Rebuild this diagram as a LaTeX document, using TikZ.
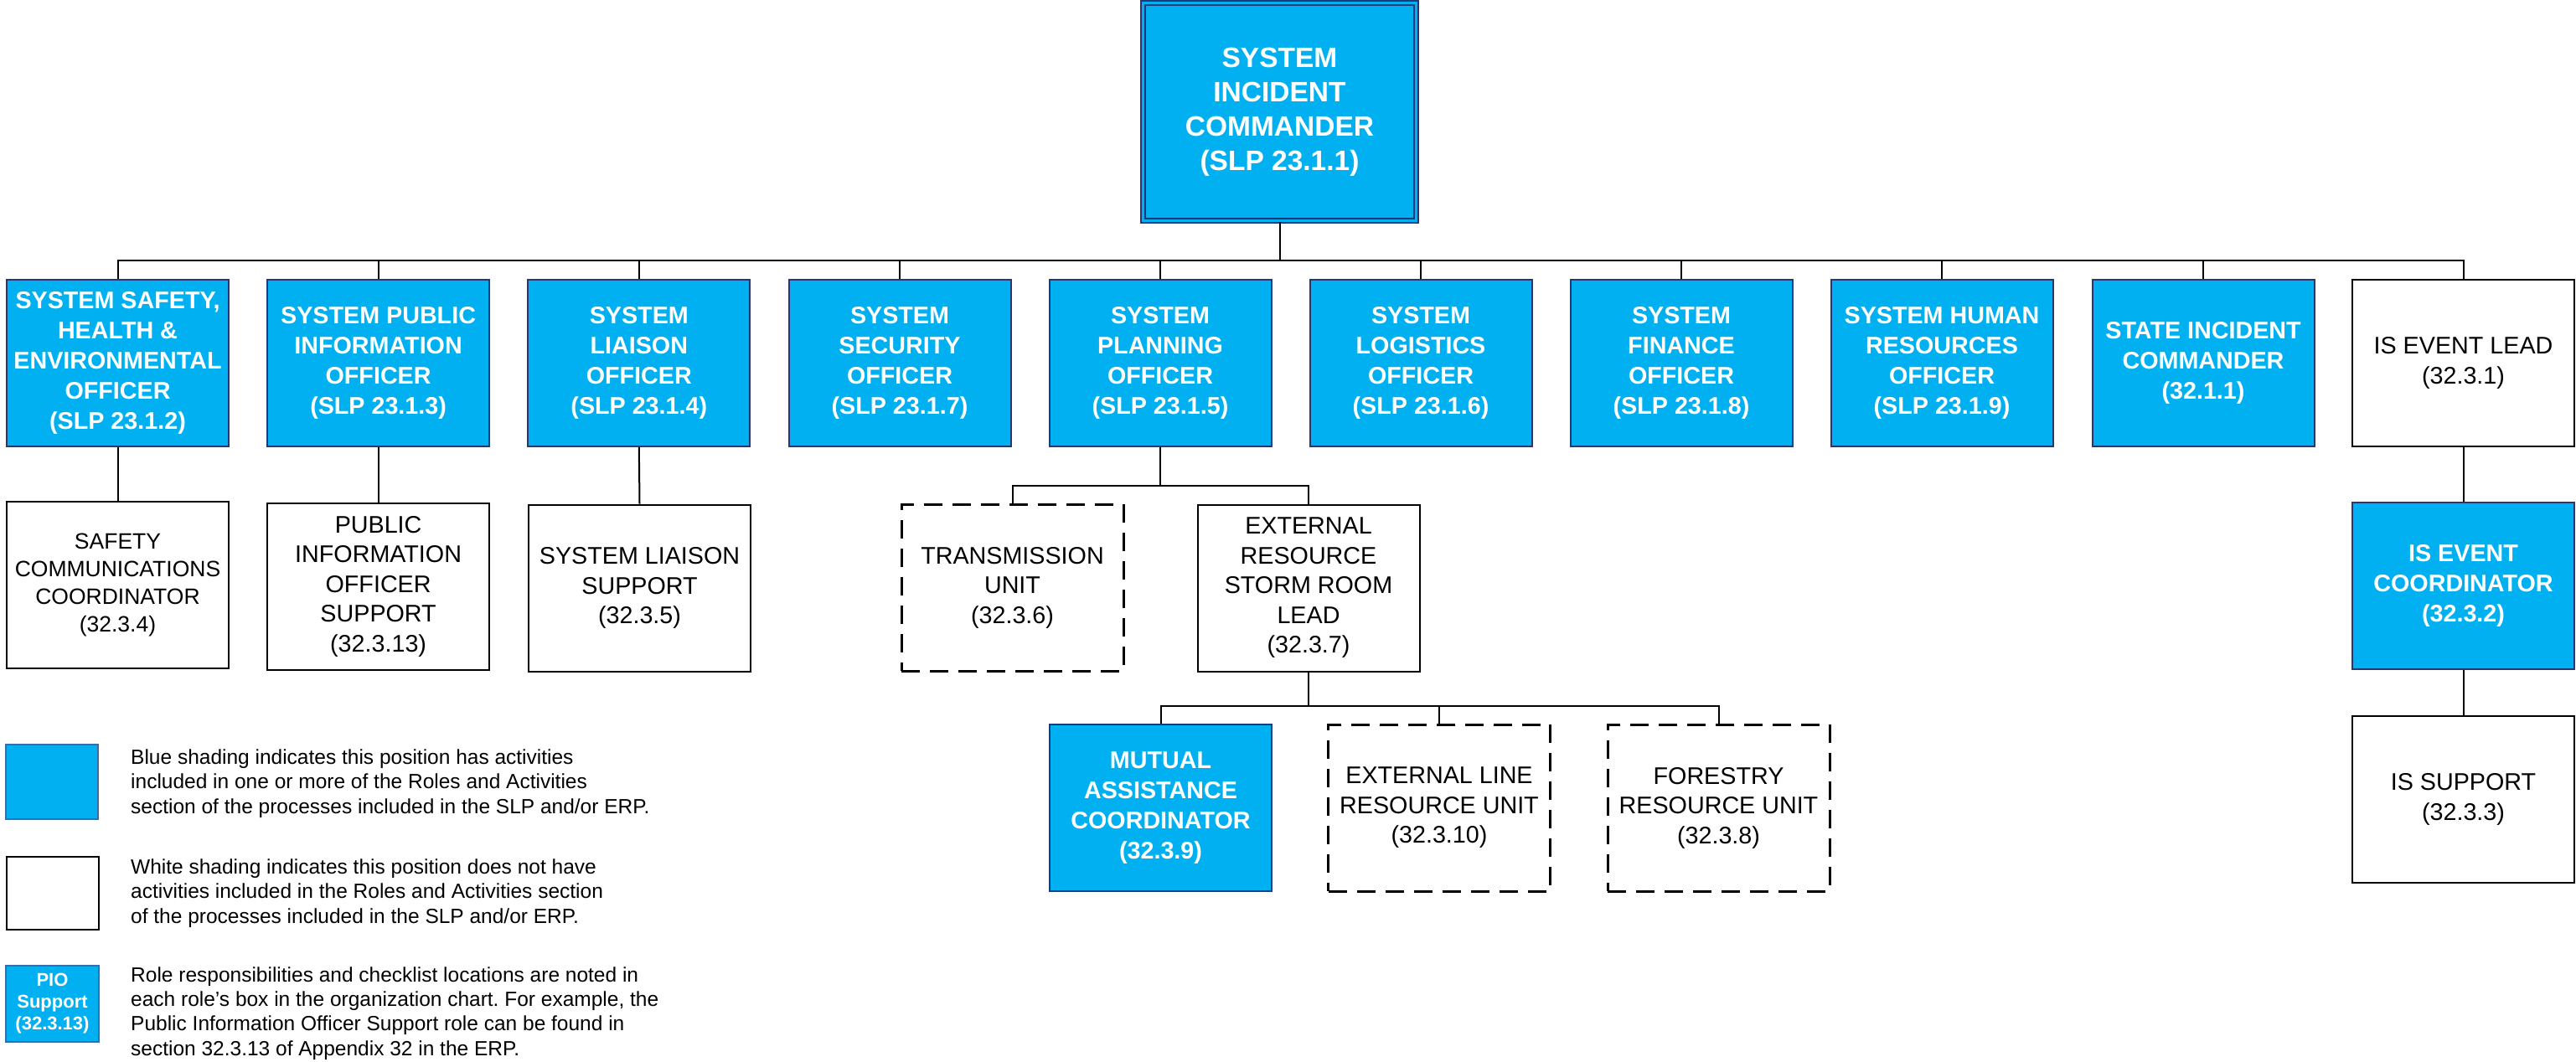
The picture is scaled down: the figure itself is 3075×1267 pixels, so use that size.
\documentclass[tikz,border=0pt]{standalone}
\usepackage{fontspec}
\setmainfont{Liberation Sans}
\frenchspacing
\definecolor{boxblue}{HTML}{00B0F0}
\definecolor{bordernavy}{HTML}{1F3A78}
\definecolor{legendedge}{HTML}{3E6AA8}
\begin{document}
\begin{tikzpicture}[x=1pt,y=-1pt,
  box/.style={rectangle, minimum width=265pt, minimum height=199pt, inner sep=0pt, align=center},
  bluebox/.style={box, fill=boxblue, draw=bordernavy, line width=2pt, text=white, font=\bfseries\fontsize{28.7}{36}\selectfont},
  whitebox/.style={box, fill=white, draw=black, line width=2pt, font=\fontsize{28.7}{35.5}\selectfont},
  dashbox/.style={whitebox, dash pattern=on 22pt off 12pt, line width=3pt},
  link/.style={draw=black, line width=2pt},
  legtext/.style={anchor=base west, align=left, inner sep=0pt, font=\fontsize{24.5}{29.3}\selectfont}
]
\useasboundingbox (0,0) rectangle (3075,1267);

% top
\node[rectangle, minimum width=326pt, minimum height=260pt, inner sep=0pt, fill=boxblue, draw=bordernavy, line width=2pt, double=boxblue, double distance=3pt, text=white, font=\bfseries\fontsize{33.5}{41}\selectfont, align=center] (sic) at (1527.5,133.5) {SYSTEM\\INCIDENT\\COMMANDER\\(SLP 23.1.1)};

% row 1
\node[bluebox] (s1) at (140.5,433.5) {SYSTEM SAFETY,\\HEALTH \&\\ENVIRONMENTAL\\OFFICER\\(SLP 23.1.2)};
\node[bluebox] (s2) at (451.6,433.5) {SYSTEM PUBLIC\\INFORMATION\\OFFICER\\(SLP 23.1.3)};
\node[bluebox] (s3) at (762.8,433.5) {SYSTEM\\LIAISON\\OFFICER\\(SLP 23.1.4)};
\node[bluebox] (s4) at (1074,433.5) {SYSTEM\\SECURITY\\OFFICER\\(SLP 23.1.7)};
\node[bluebox] (s5) at (1385,433.5) {SYSTEM\\PLANNING\\OFFICER\\(SLP 23.1.5)};
\node[bluebox] (s6) at (1696,433.5) {SYSTEM\\LOGISTICS\\OFFICER\\(SLP 23.1.6)};
\node[bluebox] (s7) at (2007,433.5) {SYSTEM\\FINANCE\\OFFICER\\(SLP 23.1.8)};
\node[bluebox] (s8) at (2318,433.5) {SYSTEM HUMAN\\RESOURCES\\OFFICER\\(SLP 23.1.9)};
\node[bluebox] (s9) at (2630,433.5) {STATE INCIDENT\\COMMANDER\\(32.1.1)};
\node[whitebox] (s10) at (2940.5,433.5) {IS EVENT LEAD\\(32.3.1)};

% row 2
\node[whitebox, font=\fontsize{26.5}{33}\selectfont] (sc) at (140.5,698.5) {SAFETY\\COMMUNICATIONS\\COORDINATOR\\(32.3.4)};
\node[whitebox] (pis) at (451.6,700) {PUBLIC\\INFORMATION\\OFFICER\\SUPPORT\\(32.3.13)};
\node[whitebox] (ls) at (763.5,702) {SYSTEM LIAISON\\SUPPORT\\(32.3.5)};
\node[dashbox] (trans) at (1208.5,701.5) {TRANSMISSION\\UNIT\\(32.3.6)};
\node[whitebox] (ext) at (1562,702) {EXTERNAL\\RESOURCE\\STORM ROOM\\LEAD\\(32.3.7)};
\node[bluebox] (iscoord) at (2940.5,699.5) {IS EVENT\\COORDINATOR\\(32.3.2)};

% row 3
\node[bluebox] (mutual) at (1385.5,964.5) {MUTUAL\\ASSISTANCE\\COORDINATOR\\(32.3.9)};
\node[dashbox] (extline) at (1718,964.5) {EXTERNAL LINE\\RESOURCE UNIT\\(32.3.10)};
\node[dashbox] (forest) at (2051.5,964.5) {FORESTRY\\RESOURCE UNIT\\(32.3.8)};
\node[whitebox] (issup) at (2940.5,954.5) {IS SUPPORT\\(32.3.3)};

% connectors
\coordinate (bus) at (0,311);
\coordinate (pbus) at (0,580);
\coordinate (ebus) at (0,843);
\draw[link] (sic.south) -- (sic.south |- bus);
\draw[link] (s1.north) |- (bus -| s10.north) -- (s10.north);
\foreach \n in {s2,s3,s4,s5,s6,s7,s8,s9}
  \draw[link] (\n.north) -- (\n.north |- bus);
\draw[link] (s1.south) -- (sc.north);
\draw[link] (s2.south) -- (pis.north);
\draw[link] (s3.south) -- (ls.north);
\draw[link] (s5.south) -- (s5.south |- pbus);
\draw[link] (trans.north) |- (pbus -| ext.north) -- (ext.north);
\draw[link] (ext.south) -- (ext.south |- ebus);
\draw[link] (mutual.north) |- (ebus -| forest.north) -- (forest.north);
\draw[link] (extline.north) -- (extline.north |- ebus);
\draw[link] (s10.south) -- (iscoord.north);
\draw[link] (iscoord.south) -- (issup.north);

% legend
\node[fill=boxblue, draw=legendedge, line width=2pt, minimum width=110pt, minimum height=89pt, inner sep=0pt] (lgblue) at (62,933.5) {};
\node[fill=white, draw=black, line width=2.5pt, minimum width=110pt, minimum height=87pt, inner sep=0pt] (lgwhite) at (63,1066.5) {};
\node[fill=boxblue, draw=legendedge, line width=2pt, minimum width=111pt, minimum height=91pt, inner sep=0pt, text=white, font=\bfseries\fontsize{22}{26}\selectfont, align=center] (lgpio) at (62.5,1198.5) {PIO\\Support\\(32.3.13)};
\node[legtext] (lt1) at (156,971) {Blue shading indicates this position has activities\\included in one or more of the Roles and Activities\\section of the processes included in the SLP and/or ERP.};
\node[legtext] (lt2) at (156,1102) {White shading indicates this position does not have\\activities included in the Roles and Activities section\\of the processes included in the SLP and/or ERP.};
\node[legtext] (lt3) at (156,1260) {Role responsibilities and checklist locations are noted in\\each role’s box in the organization chart. For example, the\\Public Information Officer Support role can be found in\\section 32.3.13 of Appendix 32 in the ERP.};
\end{tikzpicture}
\end{document}
